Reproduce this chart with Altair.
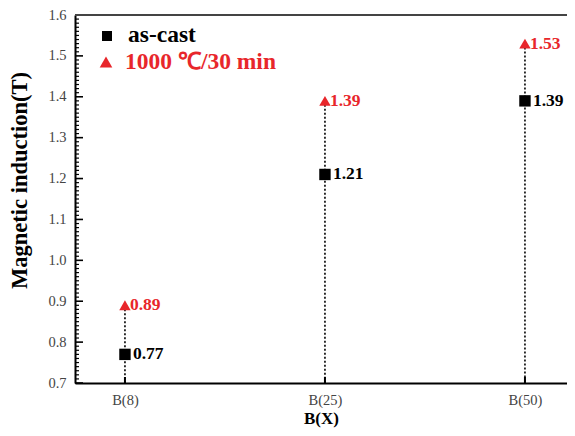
import altair as alt
import pandas as pd
import numpy as np

categories = ["B(8)", "B(25)", "B(50)"]
as_cast = [0.77, 1.21, 1.39]
annealed = [0.89, 1.39, 1.53]
series_names = ["as-cast", "1000 ℃/30 min"]
y_major = [0.7, 0.8, 0.9, 1.0, 1.1, 1.2, 1.3, 1.4, 1.5, 1.6]
y_minor = [round(v, 2) for v in np.arange(0.70, 1.6001, 0.01) if round(v * 100) % 10 != 0]

W, H = 492, 368
RED = "#e8262b"
FONT = "Liberation Serif"
Y_TITLE = "Magnetic induction(T)"

pts = pd.DataFrame({
    "cat": categories * 2,
    "value": as_cast + annealed,
    "series": [series_names[0]] * 3 + [series_names[1]] * 3,
})
rules = pd.DataFrame({"cat": categories, "value": annealed})
minor = pd.DataFrame({"value": y_minor})
major = pd.DataFrame({"value": y_major})
xt = pd.DataFrame({"cat": categories})

xscale = alt.Scale(type="point", domain=categories, padding=0.23, align=0.543)
yscale = alt.Scale(domain=[0.7, 1.6], nice=False, zero=False)

x_axis = alt.Axis(title="B(X)", ticks=False, domainWidth=2, domainColor="black",
                  labelFont=FONT, labelFontSize=14.5, labelColor="#444", labelPadding=10,
                  labelAngle=0, titleFont=FONT, titleFontSize=17, titleFontWeight="bold",
                  titleColor="black", titlePadding=4, grid=False)
y_axis = alt.Axis(title=Y_TITLE, values=y_major, format=".1f", ticks=False, domainWidth=2,
                  domainColor="black", labelFont=FONT, labelFontSize=14.5, labelColor="#444",
                  labelPadding=9, titleFont=FONT, titleFontSize=22.5, titleFontWeight="bold",
                  titleColor="black", titleX=-44, titleY=165, titleBaseline="bottom",
                  grid=False)

X = alt.X("cat:N", sort=categories, scale=xscale, axis=x_axis)
Y = alt.Y("value:Q", scale=yscale, axis=y_axis)

dotted = alt.Chart(rules).mark_rule(color="black", strokeWidth=1.6, strokeDash=[2, 2]).encode(
    x=X, y=Y, y2=alt.datum(0.7))

minor_ticks = alt.Chart(minor).mark_rule(color="black", strokeWidth=1.2).encode(
    y=Y, x=alt.value(0), x2=alt.value(4))
major_ticks = alt.Chart(major).mark_rule(color="black", strokeWidth=1.6).encode(
    y=Y, x=alt.value(0), x2=alt.value(8))
x_ticks = alt.Chart(xt).mark_rule(color="black", strokeWidth=2).encode(
    x=X, y=alt.value(H), y2=alt.value(H - 6))
top_border = alt.Chart(xt).mark_rule(color="#444", strokeWidth=2).encode(
    x=alt.value(0), x2=alt.value(W), y=alt.value(0))

squares = alt.Chart(pts[pts.series == series_names[0]]).mark_point(
    shape="square", filled=True, opacity=1, color="black", size=130).encode(x=X, y=Y)
tris = alt.Chart(pts[pts.series == series_names[1]]).mark_point(
    shape="triangle-up", filled=True, opacity=1, color=RED, size=130).encode(x=X, y=Y)

sq_lab = alt.Chart(pts[pts.series == series_names[0]]).mark_text(
    align="left", baseline="middle", dx=8, font=FONT, fontSize=17.5, fontWeight="bold",
    color="black").encode(x=X, y=Y, text=alt.Text("value:Q", format=".2f"))
tri_lab = alt.Chart(pts[pts.series == series_names[1]]).mark_text(
    align="left", baseline="middle", dx=5, font=FONT, fontSize=17.5, fontWeight="bold",
    color=RED).encode(x=X, y=Y, text=alt.Text("value:Q", format=".2f"))

leg = pd.DataFrame({"name": series_names})
leg_sq = alt.Chart(leg.iloc[[0]]).mark_point(shape="square", filled=True, opacity=1,
                                             color="black", size=100).encode(
    x=alt.value(32), y=alt.value(21))
leg_sq_t = alt.Chart(leg.iloc[[0]]).mark_text(align="left", baseline="middle", font=FONT,
                                              fontSize=23.5, fontWeight="bold",
                                              color="black").encode(
    x=alt.value(53), y=alt.value(20), text="name:N")
leg_tr = alt.Chart(leg.iloc[[1]]).mark_point(shape="triangle-up", filled=True, opacity=1,
                                             color=RED, size=160).encode(
    x=alt.value(31), y=alt.value(47))
leg_tr_t = alt.Chart(leg.iloc[[1]]).mark_text(align="left", baseline="middle", font=FONT,
                                              fontSize=23.5, fontWeight="bold",
                                              color=RED).encode(
    x=alt.value(50), y=alt.value(47), text="name:N")

chart = alt.layer(
    dotted, minor_ticks, major_ticks, x_ticks, top_border,
    squares, tris, sq_lab, tri_lab, leg_sq, leg_sq_t, leg_tr, leg_tr_t
).properties(
    width=W, height=H,
    autosize=alt.AutoSizeParams(type="none"),
    padding={"left": 67, "top": 7, "right": 0, "bottom": 45},
).configure_view(stroke=None).configure(background="white")

chart.save("out.html", embed_options={"renderer": "svg", "actions": False})
